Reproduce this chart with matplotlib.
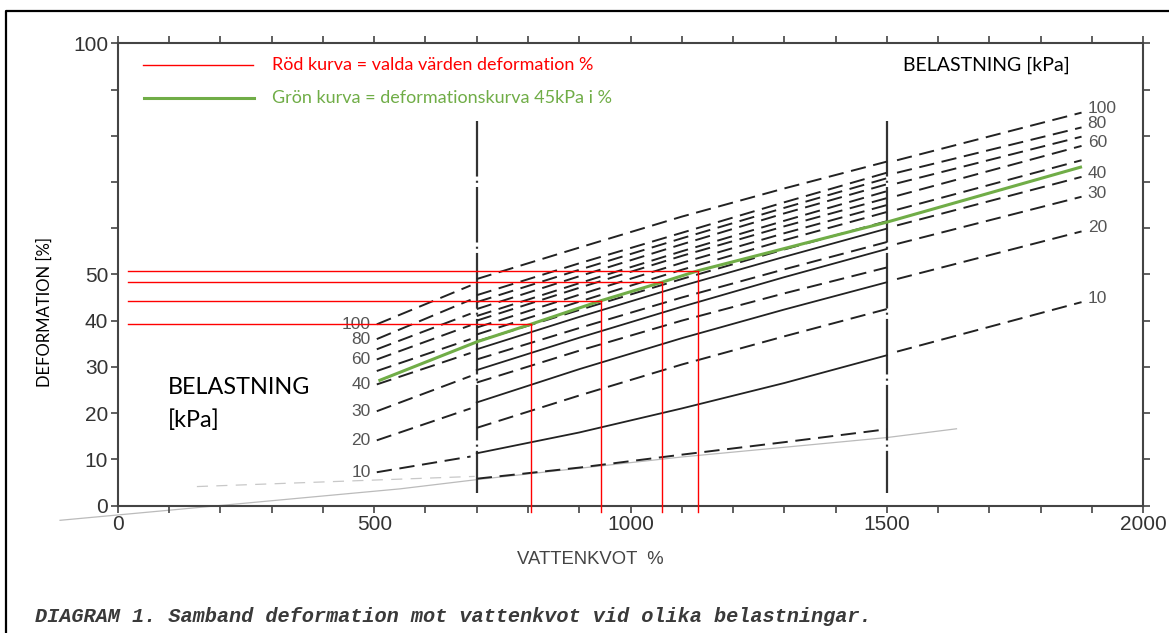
import matplotlib
matplotlib.use("Agg")
import matplotlib.pyplot as plt
from matplotlib.lines import Line2D
from matplotlib.ticker import MultipleLocator, FixedLocator

plt.rcParams['lines.scale_dashes'] = False

# belastning [kPa] for each curve, and those that carry a number
loads = [10, 20, 30, 40, 50, 60, 70, 80, 100]
labelled = [10, 20, 30, 40, 60, 80, 100]

# left part of the curves
x_left = [505, 688]
y_left = {10: [7.2, 10.6], 20: [14.1, 21.0], 30: [20.4, 28.0], 40: [26.2, 33.0],
          50: [29.1, 36.0], 60: [31.6, 39.0], 70: [33.8, 41.5], 80: [36.0, 44.5],
          100: [39.2, 47.6]}

# middle part, 700 - 1500 %
x_mid = [700, 900, 1100, 1300, 1500]
y_mid = {10: [11.3, 15.8, 21.0, 26.5, 32.5], 20: [22.3, 29.5, 36.2, 42.4, 48.3],
         30: [29.3, 36.3, 43.0, 49.4, 55.5], 40: [33.8, 40.8, 47.5, 53.8, 59.9],
         50: [37.0, 44.1, 51.0, 57.4, 63.5], 60: [40.0, 47.1, 54.0, 60.4, 66.5],
         70: [42.5, 49.6, 56.5, 63.2, 69.5], 80: [45.5, 52.4, 59.0, 65.6, 72.0],
         100: [49.0, 55.8, 62.5, 68.6, 74.4]}
mid_solid = [10, 20, 30, 40]
y_mid_extra = [[5.8, 8.2, 11.0, 13.7, 16.5], [16.8, 23.8, 30.5, 36.6, 42.5],
               [26.6, 33.5, 40.0, 45.9, 51.5], [31.6, 38.4, 45.0, 51.1, 57.0],
               [35.5, 42.3, 49.0, 55.4, 61.5], [38.5, 45.6, 52.5, 58.9, 65.0],
               [41.0, 48.1, 55.0, 61.6, 68.0], [44.0, 51.0, 57.8, 64.4, 70.8]]

# right part of the curves
x_right = [1520, 1880]
y_right = {10: [33.3, 44.0], 20: [49.0, 59.3], 30: [56.6, 66.8], 40: [60.6, 71.1],
           50: [64.0, 74.7], 60: [67.0, 77.8], 70: [69.7, 79.8], 80: [72.0, 81.8],
           100: [74.7, 85.0]}

# deformationskurva 45 kPa
x_green = [511, 700, 805, 942, 1061, 1132, 1500, 1878]
y_green = [27.1, 35.4, 39.2, 44.3, 48.3, 50.8, 61.3, 73.2]

# valda värden
x_red = [805, 942, 1061, 1132]
y_red = [39.2, 44.3, 48.3, 50.8]

# faint lines near the bottom
x_faint = [-113, 550, 700, 1100, 1500, 1636]
y_faint = [-3.2, 3.6, 5.6, 10.5, 14.7, 16.6]
x_faint2 = [154, 696]
y_faint2 = [4.1, 6.3]

ink = '#222222'
axis_grey = '#444444'
green = '#70ad47'
red = '#ff0000'
dash = (11, 5.5)

fig = plt.figure(figsize=(11.69, 6.33), dpi=100)
ax = fig.add_axes([0.1009, 0.2014, 0.8769, 0.7302])

ax.set_xlim(0, 2000)
ax.set_ylim(0, 100)

for s in ax.spines.values():
    s.set_color(axis_grey)
    s.set_linewidth(1.5)

ax.xaxis.set_major_locator(FixedLocator([0, 500, 1000, 1500, 2000]))
ax.xaxis.set_minor_locator(MultipleLocator(100))
ax.yaxis.set_major_locator(FixedLocator([0, 10, 20, 30, 40, 50, 100]))
ax.yaxis.set_minor_locator(MultipleLocator(10))
ax.tick_params(which='both', direction='out', length=5, width=1.2, color=axis_grey,
               top=True, right=True)
ax.tick_params(labelsize=15, labelcolor='#333333', pad=2)
for lab in ax.get_xticklabels() + ax.get_yticklabels():
    lab.set_family('Liberation Sans')

# faint background lines
ax.plot(x_faint, y_faint, color='#bbbbbb', lw=0.9, clip_on=False, zorder=1)
ax.plot(x_faint2, y_faint2, color='#c8c8c8', lw=0.9, dashes=(8, 6), zorder=1)

# vertical dash-dot markers at 700 and 1500 %
for xv in [700, 1500]:
    ax.plot([xv, xv], [83.2, 2.8], color='#333333', lw=1.6,
            dashes=(40, 3, 1.5, 3), zorder=2)

# curves
for ld in loads:
    ax.plot(x_left, y_left[ld], color=ink, lw=1.4, dashes=dash, zorder=3)
    if ld in mid_solid:
        ax.plot(x_mid, y_mid[ld], color=ink, lw=1.3, zorder=3)
    else:
        ax.plot(x_mid, y_mid[ld], color=ink, lw=1.4, dashes=dash, zorder=3)
    ax.plot(x_right, y_right[ld], color=ink, lw=1.4, dashes=dash, zorder=3)
    if ld in labelled:
        ax.text(x_left[0] - 12, y_left[ld][0], str(ld), ha='right', va='center',
                fontsize=12.5, color='#555555', family='Liberation Sans')
        ax.text(x_right[1] + 12, y_right[ld][1] + 0.8, str(ld), ha='left', va='center',
                fontsize=12.5, color='#555555', family='Liberation Sans', clip_on=False)
for ys in y_mid_extra:
    ax.plot(x_mid, ys, color=ink, lw=1.4, dashes=dash, zorder=3)

ax.plot(x_green, y_green, color=green, lw=2.2, zorder=5)

for xr, yr in zip(x_red, y_red):
    ax.plot([20, xr], [yr, yr], color=red, lw=1.0, zorder=6, clip_on=False)
    ax.plot([xr, xr], [yr, -1.5], color=red, lw=1.0, zorder=6, clip_on=False)

# legend drawn by hand
ax.plot([49, 264], [95.3, 95.3], color=red, lw=1.0)
ax.text(301, 95.3, 'Röd kurva = valda värden deformation %', color=red,
        fontsize=13, family='Lato', va='center')
ax.plot([51, 266], [88.2, 88.2], color=green, lw=2.2)
ax.text(301, 88.2, 'Grön kurva = deformationskurva 45kPa i %', color=green,
        fontsize=13, family='Lato', va='center')

ax.text(1532, 95.3, 'BELASTNING [kPa]', color='black', fontsize=14,
        family='Lato', va='center')
ax.text(98, 25.5, 'BELASTNING', color='black', fontsize=16.8, family='Lato', va='center')
ax.text(98, 18.4, '[kPa]', color='black', fontsize=16.8, family='Lato', va='center')

fig.text(45 / 1169, 1 - 312 / 633, 'DEFORMATION [%]', rotation=90, ha='center',
         va='center', fontsize=12, family='Lato', color='black')
fig.text(590 / 1169, 1 - 560 / 633, 'VATTENKVOT  %', ha='center', va='center',
         fontsize=13.3, family='Liberation Sans', color='#444444')
fig.text(35 / 1169, 1 - 617 / 633,
         'DIAGRAM 1. Samband deformation mot vattenkvot vid olika belastningar.',
         ha='left', va='center', fontsize=14.55, family='Liberation Mono',
         style='italic', weight='bold', color='#3a3a3a')

# frame around the page
fig.add_artist(Line2D([0.0049, 0.0049, 1.0], [0.0, 0.983, 0.983],
                      transform=fig.transFigure, color='black', lw=1.6))

fig.savefig('out.png', dpi=100)
